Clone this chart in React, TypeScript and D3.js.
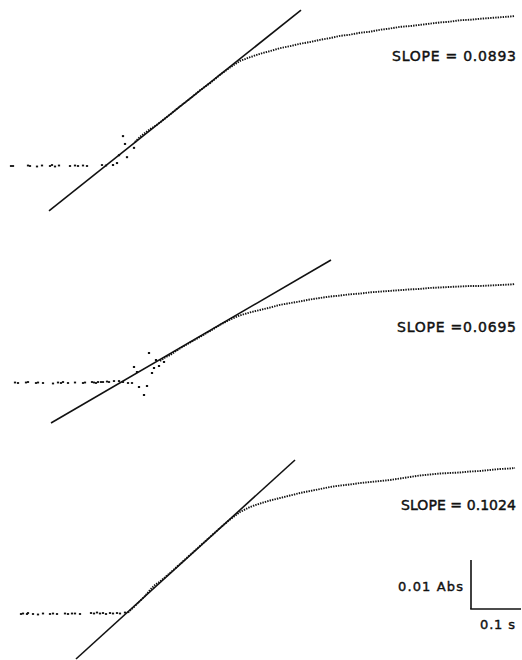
import React from "react";
import * as d3 from "d3";

// time in ms, absorbance in mAbs (relative to each trace's pre-mixing baseline)
const slopeLabels = ["SLOPE = 0.0893", "SLOPE =0.0695", "SLOPE = 0.1024"];

// ---- Panel 1 ----
const p1BaseT = [2, 6, 36, 40, 54, 64, 80, 84, 90, 98, 120, 130, 136, 146, 154, 184, 192];
const p1BaseA = [0, 0, 0.1, 0, -0.1, 0.1, 0, 0.2, -0.1, 0.1, 0, 0.1, 0, 0.1, 0, 0.2, 0.1];
const p1ScatT = [206, 214, 218, 226, 230, 234, 248];
const p1ScatA = [0.2, 0.6, 2.2, 6.1, 4.5, 1.8, 3.7];
const p1TraceT = [250, 260, 270, 280, 290, 300, 320, 340, 360, 380, 400, 420, 440, 460, 480, 500, 520, 540, 560, 580, 600, 620, 640, 660, 680, 700, 720, 740, 760, 780, 800, 820, 840, 860, 880, 900, 920, 940, 960, 980, 1000, 1010];
const p1TraceA = [4.9, 5.95, 6.75, 7.5, 8.15, 8.9, 10.5, 12.2, 13.75, 15.45, 16.9, 18.6, 20.1, 21.45, 22.2, 22.9, 23.45, 24.05, 24.45, 24.95, 25.3, 25.75, 26.1, 26.55, 26.8, 27.2, 27.4, 27.8, 28.05, 28.4, 28.55, 28.8, 29.05, 29.3, 29.45, 29.75, 29.85, 30.05, 30.2, 30.35, 30.5, 30.6];
const p1FitT = [78, 582];
const p1FitA = [-9.18, 31.8];

// ---- Panel 2 ----
const p2BaseT = [10, 16, 32, 36, 52, 56, 66, 86, 96, 102, 106, 116, 130, 146, 150, 164, 168, 172, 176, 182, 186, 194, 198, 208, 218, 226, 236, 244];
const p2BaseA = [0.1, 0, 0.1, 0.2, 0, 0.1, 0, -0.1, 0.1, 0, 0.2, 0, 0.1, 0, 0.1, 0.2, 0.1, 0, 0.2, 0.2, 0.2, 0.3, 0.2, 0.4, 0.4, 0.2, 0, 0];
const p2ScatT = [248, 254, 258, 268, 274, 278, 284, 288, 292, 298, 308];
const p2ScatA = [3.27, 2.24, -0.82, -2.45, -0.61, 6.12, 2.04, 3.06, 4.69, 3.47, 4.29];
const p2TraceT = [300, 310, 320, 340, 360, 380, 400, 420, 440, 460, 480, 500, 520, 540, 560, 580, 600, 620, 640, 660, 680, 700, 720, 740, 760, 780, 800, 820, 840, 860, 880, 900, 920, 940, 960, 980, 1000, 1010];
const p2TraceA = [4.5, 5.2, 5.7, 7.05, 8.25, 9.4, 10.6, 11.85, 12.95, 13.8, 14.4, 14.9, 15.4, 15.95, 16.3, 16.65, 17.05, 17.35, 17.65, 17.85, 18.1, 18.25, 18.5, 18.65, 18.8, 18.95, 19.1, 19.2, 19.4, 19.5, 19.6, 19.7, 19.8, 19.8, 19.9, 20.0, 20.1, 20.2];
const p2FitT = [82, 642];
const p2FitA = [-8.16, 25.1];

// ---- Panel 3 ----
const p3BaseT = [22, 26, 34, 36, 46, 56, 66, 80, 86, 94, 110, 116, 124, 130, 140, 162, 168, 174, 180, 186, 192, 200, 206, 214, 220, 230];
const p3BaseA = [0, 0.1, 0, 0.2, 0, -0.1, 0.1, 0, 0.1, 0, 0.1, 0, 0.1, 0.1, 0, 0.2, 0.1, 0.3, 0.1, 0.2, 0, 0.2, 0.1, 0.2, 0.1, 0.3];
const p3TraceT = [236, 250, 260, 270, 280, 290, 300, 320, 340, 360, 380, 400, 420, 440, 460, 480, 500, 520, 540, 560, 580, 600, 620, 640, 660, 680, 700, 720, 740, 760, 780, 800, 820, 840, 860, 880, 900, 920, 940, 960, 980, 1000, 1010];
const p3TraceA = [0.31, 1.63, 2.65, 3.67, 4.9, 5.92, 6.63, 8.37, 10.2, 12.04, 13.88, 15.71, 17.55, 19.29, 20.82, 21.84, 22.55, 23.16, 23.67, 24.18, 24.69, 25.1, 25.51, 25.92, 26.22, 26.43, 26.73, 26.94, 27.14, 27.35, 27.65, 27.96, 28.27, 28.47, 28.67, 28.78, 28.88, 29.08, 29.18, 29.39, 29.59, 29.69, 29.8];
const p3FitT = [132, 570];
const p3FitA = [-9.18, 31.43];

const scaleBarT = 100; // 0.1 s
const scaleBarA = 10; // 0.01 Abs

const W = 522;
const H = 660;
const PX_PER_MABS = 4.9;

type Panel = {
  base: number;
  baseT: number[];
  baseA: number[];
  scatT: number[];
  scatA: number[];
  traceT: number[];
  traceA: number[];
  fitT: number[];
  fitA: number[];
  label: string;
  labelX: [number, number];
  labelY: number;
};

const panels: Panel[] = [
  { base: 166, baseT: p1BaseT, baseA: p1BaseA, scatT: p1ScatT, scatA: p1ScatA, traceT: p1TraceT, traceA: p1TraceA, fitT: p1FitT, fitA: p1FitA, label: slopeLabels[0], labelX: [392, 516], labelY: 61 },
  { base: 383, baseT: p2BaseT, baseA: p2BaseA, scatT: p2ScatT, scatA: p2ScatA, traceT: p2TraceT, traceA: p2TraceA, fitT: p2FitT, fitA: p2FitA, label: slopeLabels[1], labelX: [397, 516], labelY: 332 },
  { base: 614, baseT: p3BaseT, baseA: p3BaseA, scatT: [], scatA: [], traceT: p3TraceT, traceA: p3TraceA, fitT: p3FitT, fitA: p3FitA, label: slopeLabels[2], labelX: [401, 516], labelY: 510 },
];

const ink = "#111";
const font = "'DejaVu Sans', 'Open Sans', sans-serif";

export default function App() {
  const x = d3.scaleLinear().domain([0, 1010]).range([10, 515]);

  return (
    <svg width={W} height={H} style={{ position: "absolute", left: 0, top: 0, background: "#fff" }}>
      <rect x={0} y={0} width={W} height={H} fill="#fff" />
      {panels.map((p, i) => {
        const y = d3.scaleLinear().domain([0, 10]).range([p.base, p.base - 10 * PX_PER_MABS]);
        const line = d3
          .line<[number, number]>()
          .x((d) => x(d[0]))
          .y((d) => y(d[1]));
        const trace = p.traceT.map((t, k) => [t, p.traceA[k]] as [number, number]);
        const fit = p.fitT.map((t, k) => [t, p.fitA[k]] as [number, number]);
        return (
          <g key={i}>
            <path d={line(fit) || ""} stroke={ink} strokeWidth={1.6} fill="none" />
            <path d={line(trace) || ""} stroke={ink} strokeWidth={1.9} fill="none" strokeDasharray="1.4 1.1" />
            {p.baseT.map((t, k) => (
              <rect key={"b" + k} x={x(t) - 1.1} y={y(p.baseA[k]) - 0.9} width={2.2} height={1.8} fill={ink} />
            ))}
            {p.scatT.map((t, k) => (
              <rect key={"s" + k} x={x(t) - 1.1} y={y(p.scatA[k]) - 1} width={2.2} height={2} fill={ink} />
            ))}
            <text
              x={p.labelX[0]}
              y={p.labelY}
              fontFamily={font}
              fontSize={14}
              textLength={p.labelX[1] - p.labelX[0]}
              lengthAdjust="spacing"
              fill={ink}
              stroke={ink}
              strokeWidth={0.45}
            >
              {p.label}
            </text>
          </g>
        );
      })}
      {(() => {
        const yb = d3.scaleLinear().domain([0, 10]).range([609, 609 - 10 * PX_PER_MABS]);
        const x0 = 471;
        const xEnd = x0 + (x(scaleBarT) - x(0));
        return (
          <g>
            <line x1={x0} y1={yb(0)} x2={x0} y2={yb(scaleBarA)} stroke={ink} strokeWidth={1.6} />
            <line x1={x0 - 0.8} y1={yb(0)} x2={xEnd} y2={yb(0)} stroke={ink} strokeWidth={1.6} />
            <text x={463} y={591} textAnchor="end" fontFamily={font} fontSize={13} fill={ink} stroke={ink} strokeWidth={0.4} textLength={65} lengthAdjust="spacing">
              0.01 Abs
            </text>
            <text x={480} y={629} fontFamily={font} fontSize={13} fill={ink} stroke={ink} strokeWidth={0.4} textLength={35} lengthAdjust="spacing">
              0.1 s
            </text>
          </g>
        );
      })()}
    </svg>
  );
}
